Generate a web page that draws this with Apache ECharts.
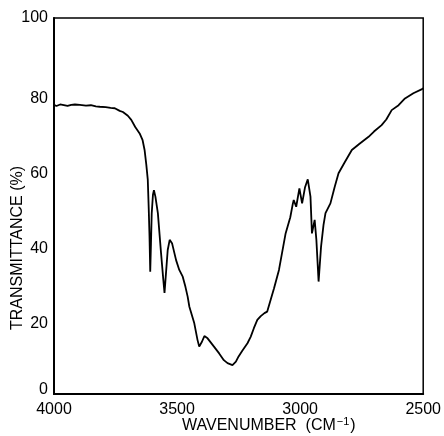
<!DOCTYPE html>
<html>
<head>
<meta charset="utf-8">
<script src="https://cdn.jsdelivr.net/npm/echarts@6/dist/echarts.min.js"></script>
<style>html,body{margin:0;padding:0;background:#fff}#c{width:444px;height:436px}</style>
</head>
<body>
<div id="c"></div>
<script>
// Wavenumber (cm^-1) and transmittance (%)
const wavenumbers = [4000,3990,3975,3960,3945,3930,3915,3895,3870,3850,3830,3814,3790,3770,3753,3733,3720,3700,3686,3670,3652,3640,3632,3625,3619,3615,3612,3609,3606,3603,3598,3594,3588,3578,3565,3556,3551,3544,3538,3530,3520,3504,3491,3477,3466,3457,3450,3430,3417,3410,3399,3389,3376,3369,3350,3329,3310,3295,3275,3261,3250,3235,3214,3201,3188,3174,3160,3145,3134,3120,3106,3086,3059,3040,3030,3026,3016,3003,2992,2980,2969,2958,2952,2941,2934,2925,2915,2905,2897,2877,2860,2844,2820,2790,2760,2722,2700,2669,2650,2628,2600,2574,2540,2507,2500];
const transmittance = [76.9,76.6,77.0,76.8,76.6,76.9,77.0,76.9,76.7,76.8,76.5,76.4,76.3,76.1,76.0,75.3,75.0,74.0,72.9,71.0,69.3,67.5,64.9,61.0,57.0,49.0,42.0,32.5,40.0,48.0,53.0,54.2,52.5,48.1,37.4,30.5,26.9,33.0,38.3,41.0,40.0,35.6,33.0,31.2,28.5,25.9,23.2,18.8,14.4,12.6,13.9,15.4,14.8,14.4,12.6,10.8,9.0,8.2,7.7,8.6,10.0,11.5,13.5,15.2,17.5,19.7,20.7,21.5,21.9,25.0,28.1,33.0,42.7,47.0,50.5,51.6,49.8,54.7,50.7,55.0,57.1,52.5,42.7,46.3,41.0,29.9,39.2,45.0,48.1,50.7,55.0,58.7,61.5,64.9,66.5,68.4,69.8,71.5,73.0,75.5,76.8,78.6,80.0,81.0,81.3];
const xTicks = [4000,3500,3000,2500];
const yTicks = [0,20,40,60,80,100];
const xTitle = 'WAVENUMBER  (CM';
const xTitleSup = '\u22121';
const yTitle = 'TRANSMITTANCE (%)';

const FONT = 'Liberation Sans';
const chart = echarts.init(document.getElementById('c'), null, {renderer:'canvas'});
chart.setOption({
  animation:false,
  backgroundColor:'#fff',
  grid:{left:54,right:19,top:18,bottom:42,show:true,borderColor:'#000',borderWidth:1.5},
  xAxis:{type:'value',inverse:true,min:2500,max:4000,interval:500,
    axisLine:{show:true,lineStyle:{color:'#000',width:2}},
    axisTick:{show:false},splitLine:{show:false},
    axisLabel:{color:'#000',fontFamily:FONT,fontSize:16,margin:8,
      formatter:v=>xTicks.includes(v)?String(v):''}},
  yAxis:{type:'value',min:0,max:100,interval:20,
    axisLine:{show:true,lineStyle:{color:'#000',width:2}},
    axisTick:{show:false},splitLine:{show:false},
    axisLabel:{color:'#000',fontFamily:FONT,fontSize:16,margin:6,
      formatter:v=>{
        if(!yTicks.includes(v)) return '';
        if(v===100) return '{t|'+v+'}';
        if(v===0) return '{b|'+v+'}';
        return '{m|'+v+'}';
      },
      rich:{
        t:{fontFamily:FONT,fontSize:16,color:'#000'},
        m:{fontFamily:FONT,fontSize:16,color:'#000',padding:[10,0,0,0]},
        b:{fontFamily:FONT,fontSize:16,color:'#000',padding:[0,0,8,0]}
      }}},
  series:[{type:'line',data:wavenumbers.map((w,i)=>[w,transmittance[i]]),
    showSymbol:false,smooth:false,lineStyle:{color:'#000',width:1.8}}],
  graphic:[
    {type:'text',left:182,top:416,style:{
      text:'{a|'+xTitle+'}{s|'+xTitleSup+'}{a|)}',
      rich:{a:{fontFamily:FONT,fontSize:16,fill:'#000'},
            s:{fontFamily:FONT,fontSize:11,fill:'#000',padding:[0,1,9,1]}}}},
    {type:'text',x:18,y:248,rotation:Math.PI/2,style:{
      text:yTitle,fontFamily:FONT,fontSize:16,fill:'#000',align:'center',verticalAlign:'middle'}}
  ]
});
</script>
</body>
</html>
